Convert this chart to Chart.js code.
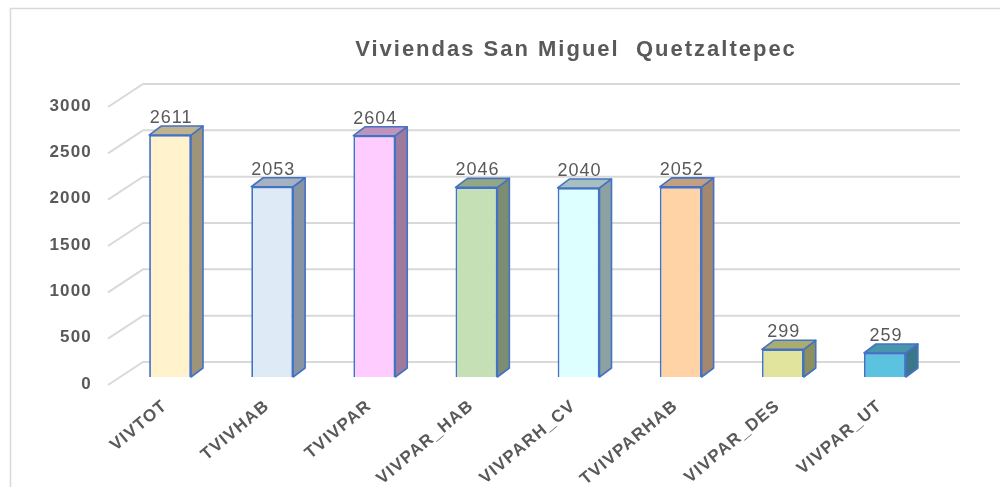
<!DOCTYPE html>
<html>
<head>
<meta charset="utf-8">
<script src="https://cdn.jsdelivr.net/npm/chart.js@4/dist/chart.umd.min.js"></script>
<style>
  html, body { margin: 0; padding: 0; background: #fff; }
  #wrap { width: 1000px; height: 487px; position: relative; }
</style>
</head>
<body>
<div id="wrap"><canvas id="c"></canvas></div>
<script>
// ---- data ----
const TITLE = 'Viviendas San Miguel  Quetzaltepec';
const CATEGORIES = ['VIVTOT', 'TVIVHAB', 'TVIVPAR', 'VIVPAR_HAB', 'VIVPARH_CV', 'TVIVPARHAB', 'VIVPAR_DES', 'VIVPAR_UT'];
const VALUES = [2611, 2053, 2604, 2046, 2040, 2052, 299, 259];
const Y_MAX = 3000;
const Y_STEP = 500;

// ---- styling ----
const FRONT = ['#FFF2CC', '#DEEBF7', '#FFCCFF', '#C5E0B4', '#DDFFFF', '#FFD3A5', '#E1E49C', '#5BC2E0'];
const TOP   = ['#BFB28F', '#A6B2C0', '#BE93BE', '#92A783', '#A6C0C0', '#C29F80', '#ABAD70', '#4895AC'];
const SIDE  = ['#9E9479', '#8994A2', '#9E7A9E', '#7C8D71', '#8CA2A2', '#A3876F', '#8D8F5F', '#3A7889'];
const EDGE = '#4472C4';
const GRID = '#d9d9d9';
const TEXT = '#595959';
const FONT = '"Liberation Sans", Arial, sans-serif';

// depth offsets (px) relative to the bar front plane
const BAR_DX = 12, BAR_DY = -9;      // bar depth
const WALL_DX = 24, WALL_DY = -15;   // back wall
const FRONT_DX = -11, FRONT_DY = 8;  // front edge of floor / side wall

const AREA = { left: 119, right: 936, top: 99, bottom: 377 };

const frame3d = {
  id: 'frame3d',
  beforeDraw(chart) {
    const ctx = chart.ctx;
    ctx.save();
    // outer frame
    ctx.strokeStyle = GRID;
    ctx.lineWidth = 1.5;
    ctx.beginPath();
    ctx.moveTo(10.5, 500);
    ctx.lineTo(10.5, 8.5);
    ctx.lineTo(1010, 8.5);
    ctx.stroke();
    // title
    ctx.fillStyle = TEXT;
    ctx.font = 'bold 22px ' + FONT;
    ctx.letterSpacing = '2px';
    ctx.textAlign = 'center';
    ctx.textBaseline = 'alphabetic';
    ctx.fillText(TITLE, 576, 56);
    ctx.restore();
    // slightly wider text for the axis labels, like the original
    ctx.letterSpacing = '1.2px';
  },
  beforeDatasetsDraw(chart) {
    const ctx = chart.ctx;
    const y = chart.scales.y;
    const a = chart.chartArea;
    ctx.save();
    ctx.strokeStyle = GRID;
    ctx.lineWidth = 2;
    y.ticks.forEach(t => {
      const py = y.getPixelForValue(t.value);
      ctx.beginPath();
      ctx.moveTo(a.left + FRONT_DX, py + FRONT_DY);
      ctx.lineTo(a.left + WALL_DX, py + WALL_DY);
      ctx.lineTo(a.right + WALL_DX, py + WALL_DY);
      ctx.stroke();
    });
    ctx.restore();
  },
  afterDatasetsDraw(chart) {
    const ctx = chart.ctx;
    const meta = chart.getDatasetMeta(0);
    ctx.save();
    ctx.lineJoin = 'round';
    meta.data.forEach((bar, i) => {
      const p = bar.getProps(['x', 'y', 'base', 'width'], true);
      const l = p.x - p.width / 2, r = p.x + p.width / 2;
      const top = p.y, bot = p.base;
      ctx.lineWidth = 1.6;
      ctx.strokeStyle = EDGE;
      // side face
      ctx.beginPath();
      ctx.moveTo(r, bot);
      ctx.lineTo(r + BAR_DX, bot + BAR_DY);
      ctx.lineTo(r + BAR_DX, top + BAR_DY);
      ctx.lineTo(r, top);
      ctx.closePath();
      ctx.fillStyle = SIDE[i];
      ctx.fill();
      ctx.stroke();
      // top face
      ctx.beginPath();
      ctx.moveTo(l, top);
      ctx.lineTo(l + BAR_DX, top + BAR_DY);
      ctx.lineTo(r + BAR_DX, top + BAR_DY);
      ctx.lineTo(r, top);
      ctx.closePath();
      ctx.fillStyle = TOP[i];
      ctx.fill();
      ctx.stroke();
      // value label
      ctx.fillStyle = TEXT;
      ctx.font = '18px ' + FONT;
      ctx.letterSpacing = '1px';
      ctx.textAlign = 'center';
      ctx.textBaseline = 'alphabetic';
      ctx.fillText(String(VALUES[i]), p.x + 1, top - 12);
    });
    ctx.restore();
  },
  afterDraw(chart) {
    chart.ctx.letterSpacing = '0px';
  }
};

new Chart(document.getElementById('c'), {
  type: 'bar',
  data: {
    labels: CATEGORIES,
    datasets: [{
      data: VALUES,
      backgroundColor: FRONT,
      borderColor: EDGE,
      borderWidth: 1.8,
      categoryPercentage: 1,
      barPercentage: 0.41
    }]
  },
  options: {
    responsive: true,
    maintainAspectRatio: false,
    animation: false,
    layout: { padding: { left: 0, right: 1000 - AREA.right, top: AREA.top, bottom: 0 } },
    plugins: { legend: { display: false }, title: { display: false }, tooltip: { enabled: false } },
    scales: {
      x: {
        grid: { display: false, drawTicks: false },
        border: { display: false },
        afterFit: s => { s.height = 487 - AREA.bottom; },
        ticks: {
          color: TEXT,
          font: { family: FONT, size: 17, weight: 'bold' },
          minRotation: 40, maxRotation: 40,
          autoSkip: false,
          padding: 19,
          labelOffset: -5
        }
      },
      y: {
        min: 0, max: Y_MAX,
        grid: { display: false, drawTicks: false },
        border: { display: false },
        afterFit: s => { s.width = AREA.left; },
        ticks: {
          stepSize: Y_STEP,
          color: TEXT,
          font: { family: FONT, size: 17, weight: 'bold' },
          padding: 27,
          labelOffset: 7,
          callback: v => String(v)
        }
      }
    }
  },
  plugins: [frame3d]
});
</script>
</body>
</html>
